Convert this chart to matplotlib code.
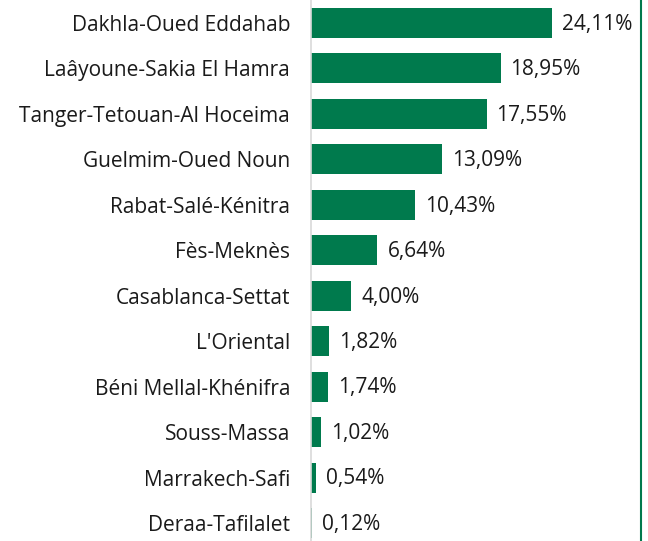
import matplotlib.pyplot as plt
from matplotlib.lines import Line2D

regions = ['Dakhla-Oued Eddahab', 'Laâyoune-Sakia El Hamra', 'Tanger-Tetouan-Al Hoceima',
           'Guelmim-Oued Noun', 'Rabat-Salé-Kénitra', 'Fès-Meknès', 'Casablanca-Settat',
           "L'Oriental", 'Béni Mellal-Khénifra', 'Souss-Massa', 'Marrakech-Safi',
           'Deraa-Tafilalet']
values = [24.11, 18.95, 17.55, 13.09, 10.43, 6.64, 4.00, 1.82, 1.74, 1.02, 0.54, 0.12]

green = '#007A4D'
plt.rcParams['font.family'] = ['Open Sans', 'DejaVu Sans']

fig = plt.figure(figsize=(6.48, 5.41), dpi=100)
ax = fig.add_axes([311 / 648, 0, (640 - 311) / 648, 1])

pos = list(range(len(regions)))
ax.barh(pos, values, height=0.66, color=green)
ax.set_ylim(11.396, -0.506)
ax.set_xlim(0, 32.9)

for p, v in zip(pos, values):
    ax.text(v + 1.0, p + 0.03, f'{v:.2f}%'.replace('.', ','), va='center', ha='left',
            fontsize=15, color='#1a1a1a')

ax.set_yticks(pos)
ax.set_yticklabels(regions, fontsize=15, color='#1a1a1a')
ax.tick_params(axis='y', length=0, pad=15)
ax.set_xticks([])
for s in ['top', 'right', 'bottom']:
    ax.spines[s].set_visible(False)
ax.spines['left'].set_color('#d9d9d9')
ax.spines['left'].set_linewidth(1.2)

# green frame line on the right
fig.add_artist(Line2D([640.5 / 648, 640.5 / 648], [0, 1], color=green, lw=1.5,
                      transform=fig.transFigure))

fig.savefig('out.png', dpi=100)
